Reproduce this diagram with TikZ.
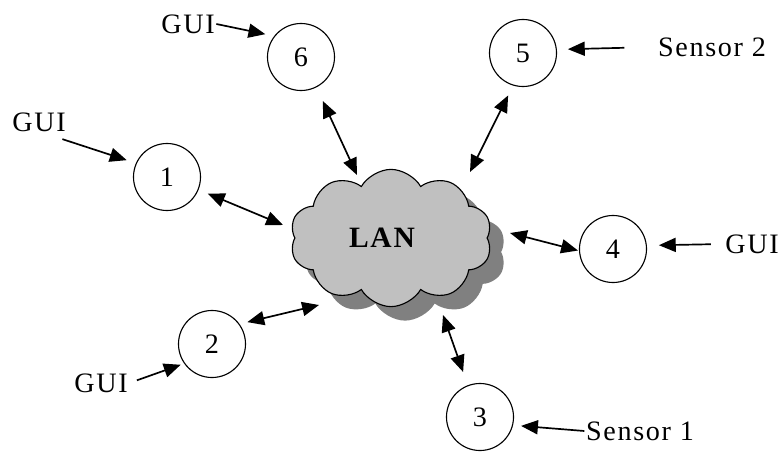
\documentclass[tikz,border=0pt]{standalone}
\usepackage{fontspec}
\setmainfont{Liberation Serif}[LetterSpace=6]
\usetikzlibrary{arrows.meta,shapes.symbols,shadows,calc}
\definecolor{cloudgray}{RGB}{192,192,192}
\definecolor{shadowgray}{RGB}{128,128,128}

\begin{document}
\begin{tikzpicture}[x=0.025cm,y=-0.025cm,
    station/.style={circle,draw,line width=0.8pt,minimum size=1.675cm,inner sep=0pt,
      font=\fontsize{20}{24}\selectfont},
    tag/.style={inner sep=1pt,font=\fontsize{20}{24}\selectfont},
    link/.style={line width=1.2pt,{Triangle[length=12pt,width=10pt]}-{Triangle[length=12pt,width=10pt]}},
    feed/.style={line width=1.2pt,-{Triangle[length=12pt,width=10pt]}}]
  \useasboundingbox (0,0) rectangle (784,454);

  % The LAN cloud with its shadow
  \node (lan) [cloud, cloud puffs=10, cloud puff arc=120, cloud ignores aspect,
    minimum width=5.05cm, minimum height=3.43cm, draw, line width=0.8pt, fill=cloudgray,
    drop shadow={shadow xshift=0.35cm, shadow yshift=-0.35cm, fill=shadowgray, opacity=1},
    font=\fontsize{21}{25}\selectfont\bfseries] at (391,238) {LAN\kern0.45cm};

  % Marking the stations
  \node (n1) [station] at (167,177) {1};
  \node (n2) [station] at (212,344) {2};
  \node (n3) [station] at (480,417) {3};
  \node (n4) [station] at (613,249) {4};
  \node (n5) [station] at (523,53) {5};
  \node (n6) [station] at (301,57) {6};

  % Marking the inputs
  \node (gui1) [tag] at (39,122) {GUI};
  \node (gui2) [tag] at (101,383) {GUI};
  \node (gui4) [tag] at (752,244) {GUI};
  \node (gui6) [tag] at (188,24) {GUI};
  \node (sensor1) [tag] at (640,431) {Sensor 1};
  \node (sensor2) [tag] at (712,47) {Sensor 2};

  % Drawing links station -- LAN
  \draw [link, shorten <=0.375cm] (n6.297) -- ($(lan)+(-34,-63)$);
  \draw [link, shorten <=0.275cm] (n5.253) -- ($(lan)+(79,-66)$);
  \draw [link, shorten <=0.25cm] (n1.338) -- ($(lan)+(-108,-13)$);
  \draw [link, shorten <=0.025cm] (n4.183) -- ($(lan)+(119,-5)$);
  \draw [link, shorten <=0.2cm] (n2.36) -- ($(lan)+(-72,67)$);
  \draw [link, shorten <=0.35cm] (n3.111) -- ($(lan)+(52,77)$);

  % Drawing inputs into stations
  \draw [feed, shorten >=0.225cm] (gui6.east) -- (n6.142);
  \draw [feed, shorten >=0.24cm] ($(gui1.south east)+(-5,6)$) -- (n1.156);
  \draw [feed, shorten <=0.32cm, shorten >=0.3cm] (gui4.west) -- (n4.6);
  \draw [feed, shorten <=0.8cm, shorten >=0.275cm] (sensor2.west) -- (n5.6);
  \draw [feed, shorten >=0.2cm] (sensor1.west) -- (n3.346);
  \draw [feed, shorten <=0.2cm, shorten >=0.09cm] (gui2.east) -- (n2.215);
\end{tikzpicture}
\end{document}
